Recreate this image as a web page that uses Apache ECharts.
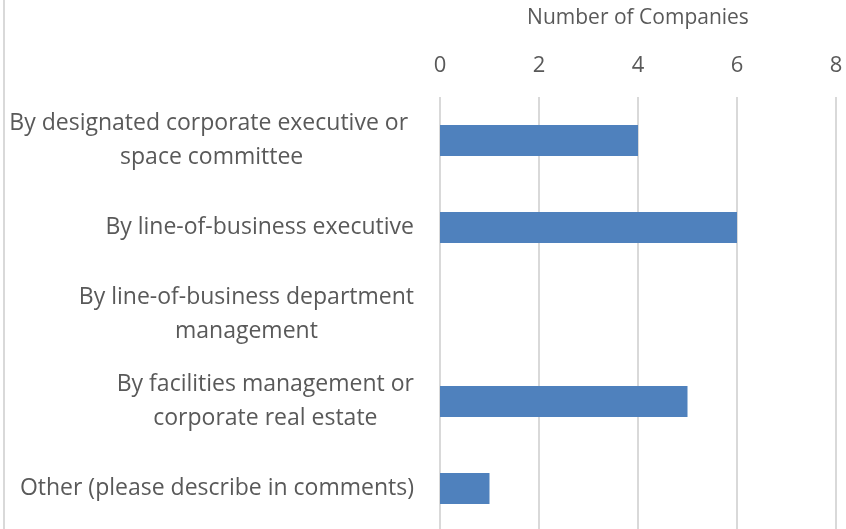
<!DOCTYPE html>
<html>
<head>
<meta charset="utf-8">
<script src="https://cdn.jsdelivr.net/npm/echarts@6/dist/echarts.min.js"></script>
<style>
  html, body { margin: 0; padding: 0; background: #fff; }
  #chart { width: 846px; height: 529px; }
</style>
</head>
<body>
<div id="chart"></div>
<script>
// categories top to bottom
const categories = [
  'By designated corporate executive or \nspace committee',
  'By line-of-business executive',
  'By line-of-business department\nmanagement',
  'By facilities management or\ncorporate real estate',
  'Other (please describe in comments)'
];
const companies = [4, 6, 0, 5, 1];
const axisName = 'Number of Companies';

const FONT = 'Open Sans';
const chart = echarts.init(document.getElementById('chart'));

// 标签按行居中，整体右对齐
function labelFormatter(value) {
  return value.split('\n').map(line => '{c|' + line + '}').join('\n');
}

const option = {
  animation: false,
  textStyle: { fontFamily: FONT },
  grid: {
    left: 440,
    right: 10,
    top: 97,
    bottom: -3,
    outerBoundsMode: 'none'
  },
  xAxis: {
    type: 'value',
    position: 'top',
    min: 0,
    max: 8,
    interval: 2,
    name: axisName,
    nameLocation: 'middle',
    nameGap: 79,
    nameTextStyle: { color: '#595959', fontSize: 21, fontFamily: FONT, verticalAlign: 'middle' },
    axisLine: { show: false },
    axisTick: { show: false },
    axisLabel: { color: '#595959', fontSize: 22, margin: 20, fontFamily: FONT },
    splitLine: { lineStyle: { color: '#d9d9d9', width: 2 } }
  },
  yAxis: {
    type: 'category',
    inverse: true,
    data: categories,
    axisLine: { show: false },
    axisTick: { show: false },
    axisLabel: {
      margin: 26,
      formatter: labelFormatter,
      rich: {
        c: { color: '#595959', fontSize: 23, fontFamily: FONT, align: 'center', lineHeight: 34 }
      }
    }
  },
  series: [{
    type: 'bar',
    data: companies,
    barWidth: 31,
    itemStyle: { color: '#4f81bd' }
  }],
  graphic: [{
    type: 'line',
    shape: { x1: 4, y1: 0, x2: 4, y2: 529 },
    style: { stroke: '#d9d9d9', lineWidth: 2 }
  }]
};

chart.setOption(option);
</script>
</body>
</html>
